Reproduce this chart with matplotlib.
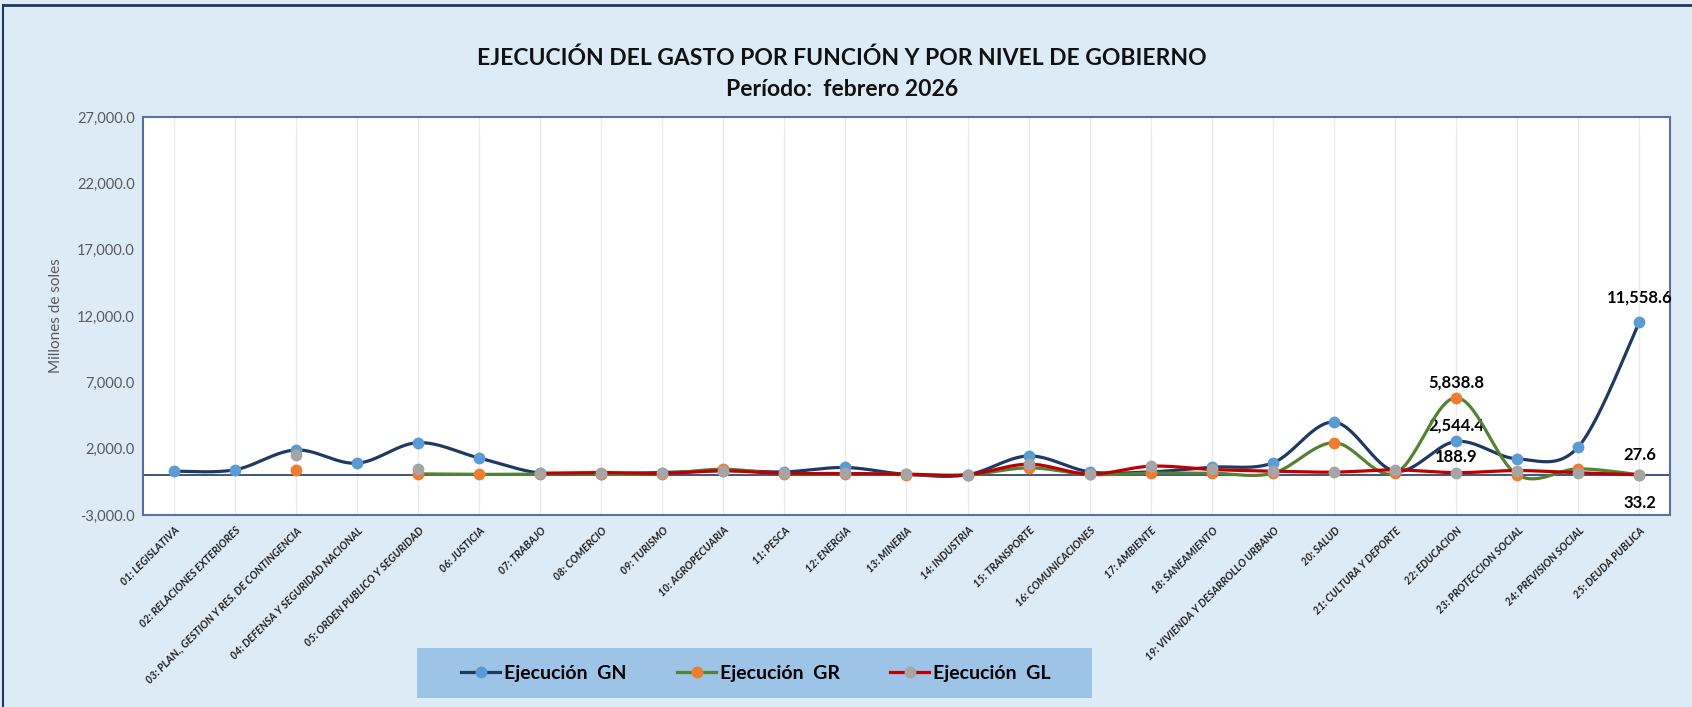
import numpy as np
import matplotlib
matplotlib.use("Agg")
import matplotlib.pyplot as plt
from matplotlib.patches import Rectangle
from matplotlib.lines import Line2D

plt.rcParams['font.family'] = ['Lato', 'DejaVu Sans']

# data (millones de soles)
categorias = [
    "01: LEGISLATIVA", "02: RELACIONES EXTERIORES",
    "03: PLAN., GESTION Y RES. DE CONTINGENCIA", "04: DEFENSA Y SEGURIDAD NACIONAL",
    "05: ORDEN PUBLICO Y SEGURIDAD", "06: JUSTICIA", "07: TRABAJO", "08: COMERCIO",
    "09: TURISMO", "10: AGROPECUARIA", "11: PESCA", "12: ENERGIA", "13: MINERIA",
    "14: INDUSTRIA", "15: TRANSPORTE", "16: COMUNICACIONES", "17: AMBIENTE",
    "18: SANEAMIENTO", "19: VIVIENDA Y DESARROLLO URBANO", "20: SALUD",
    "21: CULTURA Y DEPORTE", "22: EDUCACION", "23: PROTECCION SOCIAL",
    "24: PREVISION SOCIAL", "25: DEUDA PUBLICA",
]
nan = np.nan
gn = [300, 400, 1900, 900, 2450, 1300, 150, 120, 200, 350, 250, 580, 60, 30,
      1450, 250, 250, 600, 930, 4000, 300, 2544.4, 1230, 2140, 11558.6]
gr = [nan, nan, 400, nan, 100, 60, 80, 80, 100, 450, 80, 100, 50, 20,
      550, 60, 150, 150, 150, 2450, 150, 5838.8, 30, 480, 33.2]
gl = [nan, nan, 1550, nan, 430, nan, 150, 200, 130, 330, 130, 130, 80, 30,
      830, 80, 680, 430, 300, 230, 400, 188.9, 350, 180, 27.6]

series = [
    ("Ejecución  GN", gn, "#203864", "#5B9BD5"),
    ("Ejecución  GR", gr, "#548235", "#ED7D31"),
    ("Ejecución  GL", gl, "#C00000", "#A5A5A5"),
]


def smooth(xs, ys, n=30):
    # excel-like smoothed line: bezier with control points at 1/6 of neighbours
    px, py = [], []
    k = len(xs)
    for i in range(k - 1):
        p0 = np.array([xs[max(i - 1, 0)], ys[max(i - 1, 0)]])
        p1 = np.array([xs[i], ys[i]])
        p2 = np.array([xs[i + 1], ys[i + 1]])
        p3 = np.array([xs[min(i + 2, k - 1)], ys[min(i + 2, k - 1)]])
        c1 = p1 + (p2 - p0) / 6
        c2 = p2 - (p3 - p1) / 6
        t = np.linspace(0, 1, n)[:, None]
        b = ((1 - t) ** 3) * p1 + 3 * ((1 - t) ** 2) * t * c1 + 3 * (1 - t) * t ** 2 * c2 + t ** 3 * p2
        px.extend(b[:, 0])
        py.extend(b[:, 1])
    return px, py


fig = plt.figure(figsize=(16.92, 7.07), dpi=100)
fig.patch.set_facecolor("#DDEBF7")
fig.add_artist(Line2D([0.002, 0.002], [0, 0.993], color="#1F3864", lw=1.5))
fig.add_artist(Line2D([0.002, 1], [0.993, 0.993], color="#1F3864", lw=2))

ax = fig.add_axes([0.0845, 0.2716, 0.9025, 0.5629])
ax.set_facecolor("white")
x = np.arange(len(categorias))

for z, (name, vals, lc, mc) in enumerate(series):
    v = np.array(vals, dtype=float)
    ok = ~np.isnan(v)
    # split into runs of consecutive valid points
    start = None
    for i in range(len(v) + 1):
        if i < len(v) and ok[i]:
            if start is None:
                start = i
        else:
            if start is not None and i - start > 1:
                sx, sy = smooth(x[start:i], v[start:i])
                ax.plot(sx, sy, color=lc, lw=2.3, zorder=3 + 2 * z, solid_capstyle="round")
            start = None
    ax.plot(x[ok], v[ok], ls="none", marker="o", ms=7.5, mfc=mc, mec=mc, zorder=4 + 2 * z)

ax.axhline(0, color="#1F3864", lw=1.2, zorder=2)

ax.set_xlim(-0.5, len(categorias) - 0.5)
ax.set_ylim(-3000, 27000)
ax.set_yticks(np.arange(-3000, 27001, 5000))
ax.set_yticklabels([f"{t:,.1f}" for t in np.arange(-3000, 27001, 5000)], color="#595959", fontsize=10.5)
ax.set_xticks(x)
ax.set_xticklabels(categorias, rotation=45, ha="right", rotation_mode="anchor",
                   fontsize=7.6, fontstyle="italic", fontweight="bold", color="#222222")
ax.tick_params(axis="both", length=0, pad=6)
ax.tick_params(axis="x", pad=7)
ax.grid(axis="x", color="#EBEBEB", lw=1, zorder=0)
for s in ax.spines.values():
    s.set_color("#5A6F99")
    s.set_linewidth(1.5)
ax.set_ylabel("Millones de soles", color="#595959", fontsize=11, labelpad=10)

# data labels
lab = dict(fontsize=12, fontweight="bold", color="black", ha="center")
ax.annotate("11,558.6", (24, gn[24]), xytext=(0, 14), textcoords="offset points", **lab)
ax.annotate("5,838.8", (21, gr[21]), xytext=(0, 7), textcoords="offset points", **lab)
ax.annotate("2,544.4", (21, gn[21]), xytext=(0, 8), textcoords="offset points", **lab)
ax.annotate("188.9", (21, gl[21]), xytext=(0, 8), textcoords="offset points", **lab)
ax.annotate("27.6", (24, gl[24]), xytext=(0, 11), textcoords="offset points", **lab)
ax.annotate("33.2", (24, gr[24]), xytext=(0, -24), textcoords="offset points", **lab)

fig.text(0.4975, 0.918, "EJECUCIÓN DEL GASTO POR FUNCIÓN Y POR NIVEL DE GOBIERNO",
         ha="center", va="center", fontsize=16.5, fontweight="bold", color="#111111")
fig.text(0.4975, 0.874, "Período:  febrero 2026",
         ha="center", va="center", fontsize=16.5, fontweight="bold", color="#111111")

# legend box
fig.add_artist(Rectangle((417 / 1692, 1 - 698 / 707), 675 / 1692, 50 / 707,
                         transform=fig.transFigure, facecolor="#9DC3E6", edgecolor="none"))
handles = [Line2D([], [], color=lc, lw=2.3, marker="o", ms=7.5, mfc=mc, mec=mc)
           for _, _, lc, mc in series]
fig.legend(handles, [s[0] for s in series], loc="center", bbox_to_anchor=(756 / 1692, 1 - 673 / 707),
           ncol=3, frameon=False, handlelength=2.0, handletextpad=0.2, columnspacing=2.6,
           prop=dict(size=14, weight="bold"))

fig.savefig("out.png", dpi=100, facecolor=fig.get_facecolor())
